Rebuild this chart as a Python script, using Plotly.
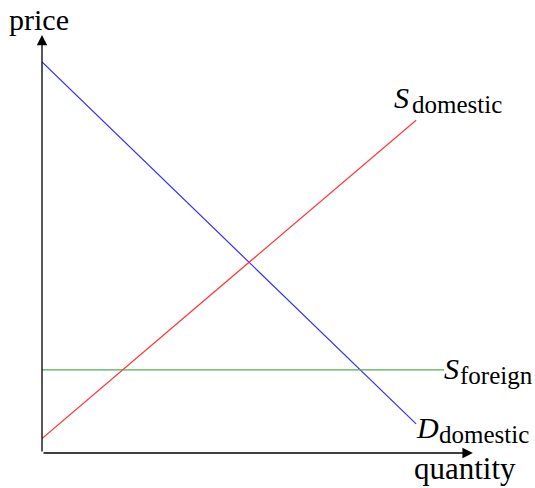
import plotly.graph_objects as go

# Data (abstract quantity / price units)
demand_x = [0, 8.7]
demand_y = [9.4, 0.7]
supply_dom_x = [0, 8.7]
supply_dom_y = [0.35, 8.0]
supply_for_x = [0, 9.35]
supply_for_y = [2.0, 2.0]

FONT = "Liberation Serif"
W, H = 535, 488
L, R, T, B = 42, 55, 30, 35   # plot area pixels 42..480 x 30..453
XR = (W - L - R) / 43.0
YR = (H - T - B) / 41.6

def px(x):
    return (x - L) / (W - L - R)

def py(y):
    return (H - B - y) / (H - T - B)

fig = go.Figure()
fig.add_trace(go.Scatter(x=demand_x, y=demand_y, mode="lines",
                         line=dict(color="#3030ff", width=1.2), hoverinfo="skip"))
fig.add_trace(go.Scatter(x=supply_dom_x, y=supply_dom_y, mode="lines",
                         line=dict(color="#ff3838", width=1.2), hoverinfo="skip"))
fig.add_trace(go.Scatter(x=supply_for_x, y=supply_for_y, mode="lines",
                         line=dict(color="#4fae4f", width=1.2), hoverinfo="skip"))

ann = []
ann.append(dict(x=10.02, y=0, ax=0, ay=0, xref="x", yref="y", axref="x", ayref="y",
                showarrow=True, arrowhead=2, arrowsize=1.6, arrowwidth=1.3,
                arrowcolor="black", text=""))
ann.append(dict(x=0, y=10.05, ax=0, ay=0, xref="x", yref="y", axref="x", ayref="y",
                showarrow=True, arrowhead=2, arrowsize=1.6, arrowwidth=1.3,
                arrowcolor="black", text=""))

def txt(t, x, y, size, anchor="left"):
    ann.append(dict(x=px(x), y=py(y), xref="paper", yref="paper", text=t,
                    showarrow=False, font=dict(family=FONT, size=size, color="black"),
                    xanchor=anchor, yanchor="middle", borderpad=0))

txt("price", 39, 19, 30, "center")
txt("quantity", 465, 468, 31, "center")
txt("<i>S</i>", 393, 97, 30)
txt("domestic", 411, 104, 25)
txt("<i>S</i>", 443, 368, 30)
txt("foreign", 459, 375, 25)
txt("<i>D</i>", 415, 427, 30)
txt("domestic", 438, 434, 25)

fig.update_layout(
    width=W, height=H,
    margin=dict(l=L, r=R, t=T, b=B),
    paper_bgcolor="white", plot_bgcolor="white",
    showlegend=False,
    xaxis=dict(range=[0, XR], visible=False, fixedrange=True),
    yaxis=dict(range=[0, YR], visible=False, fixedrange=True),
    annotations=ann,
)

fig.write_html("out.html", config={"displayModeBar": False},
               post_script="document.body.style.margin='0';document.body.style.padding='0';")
